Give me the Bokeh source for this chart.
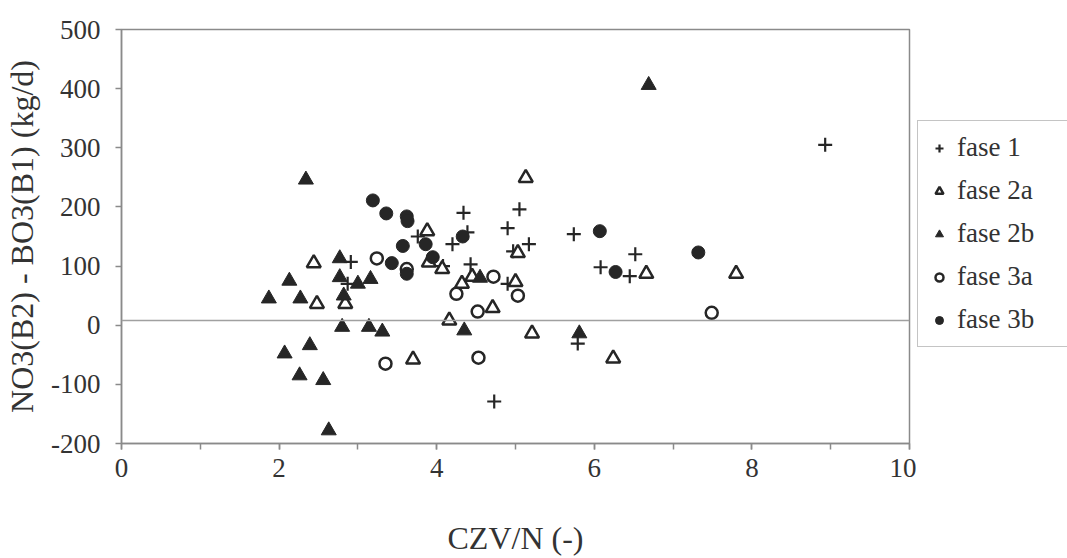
from bokeh.plotting import figure
from bokeh.layouts import row
from bokeh.models import Span, Legend, LegendItem, SingleIntervalTicker, CustomJSTickFormatter
from bokeh.embed import file_html
from bokeh.resources import INLINE

# ---- data ----
fase1_x = [2.91, 2.87, 3.76, 4.20, 4.39, 4.34, 4.43, 4.08, 4.90, 5.05, 5.17, 4.97, 4.90, 5.74, 6.08, 6.45, 6.52, 5.79, 4.73, 8.93]
fase1_y = [107, 70, 150, 137, 157, 190, 103, 100, 164, 196, 137, 125, 70, 154, 98, 83, 120, -31, -129, 305]

fase2a_x = [2.44, 2.48, 2.84, 3.88, 3.90, 4.07, 4.32, 4.45, 4.16, 4.71, 3.70, 5.00, 5.03, 5.13, 5.21, 6.24, 6.66, 7.80]
fase2a_y = [105, 36, 36, 159, 106, 95, 70, 82, 8, 29, -58, 73, 122, 249, -14, -56, 87, 87]

fase2b_x = [2.34, 6.69, 2.13, 1.87, 2.27, 2.39, 2.07, 2.26, 2.56, 2.63, 2.77, 2.77, 3.00, 3.16, 2.82, 2.80, 3.14, 3.31, 4.35, 5.81, 4.55]
fase2b_y = [246, 406, 75, 45, 45, -34, -48, -85, -93, -178, 113, 81, 70, 78, 50, -3, -3, -11, -9, -14, 80]

fase3a_x = [3.24, 3.62, 4.25, 4.72, 4.52, 5.03, 3.35, 4.53, 7.49]
fase3a_y = [113, 95, 53, 82, 23, 50, -65, -55, 21]

fase3b_x = [3.19, 3.36, 3.62, 3.63, 3.57, 3.86, 3.95, 3.43, 3.62, 4.33, 6.07, 6.27, 7.32]
fase3b_y = [211, 189, 184, 176, 134, 137, 115, 105, 87, 150, 159, 90, 123]

series_labels = ["fase 1", "fase 2a", "fase 2b", "fase 3a", "fase 3b"]
reference_level = 8

x_title = "CZV/N (-)"
y_title = "NO3(B2) - BO3(B1) (kg/d)"

# ---- styling ----
INK = "#262626"
AXIS = "#8a8a8a"
FONT = "Liberation Serif"
H = 558

styles = [
    dict(marker="cross", size=14, line_color=INK, line_width=2.2),
    dict(marker="triangle", size=14, fill_color="white", line_color=INK, line_width=2.5),
    dict(marker="triangle", size=15, fill_color=INK, line_color=INK, line_width=1),
    dict(marker="circle", size=12, fill_color="white", line_color=INK, line_width=2.5),
    dict(marker="circle", size=13, fill_color=INK, line_color=INK, line_width=1),
]

p = figure(width=916, height=H, x_range=(0, 10), y_range=(-200, 500),
           output_backend="svg", toolbar_location=None,
           min_border_left=121, min_border_right=7,
           min_border_top=29, min_border_bottom=112)
p.background_fill_color = "white"
p.border_fill_color = "white"
p.outline_line_color = AXIS
p.outline_line_width = 1.5
p.xgrid.visible = False
p.ygrid.visible = False

p.xaxis.ticker = SingleIntervalTicker(interval=2, num_minor_ticks=2)
p.yaxis.ticker = SingleIntervalTicker(interval=100, num_minor_ticks=0)
p.xaxis.formatter = CustomJSTickFormatter(code="return tick.toFixed(0);")
p.yaxis.formatter = CustomJSTickFormatter(code="return tick.toFixed(0);")

for ax in (p.xaxis, p.yaxis):
    ax.axis_line_color = AXIS
    ax.axis_line_width = 1.5
    ax.major_tick_line_color = AXIS
    ax.major_tick_line_width = 1.5
    ax.major_tick_in = 0
    ax.major_tick_out = 6
    ax.minor_tick_line_color = AXIS
    ax.minor_tick_line_width = 1.5
    ax.minor_tick_in = 0
    ax.minor_tick_out = 6
    ax.major_label_text_font = FONT
    ax.major_label_text_font_size = "27px"
    ax.major_label_text_color = "#333333"
    ax.axis_label_text_font = FONT
    ax.axis_label_text_font_size = "32px"
    ax.axis_label_text_font_style = "normal"
    ax.axis_label_text_color = "#333333"

p.xaxis.axis_label = x_title
p.yaxis.axis_label = y_title
p.xaxis.major_label_standoff = 9
p.xaxis.axis_label_standoff = 40
p.yaxis.major_label_standoff = 15
p.yaxis.axis_label_standoff = 8

p.add_layout(Span(location=reference_level, dimension="width",
                  line_color="#a0a0a0", line_width=1.5))

series = [(fase1_x, fase1_y), (fase2a_x, fase2a_y), (fase2b_x, fase2b_y),
          (fase3a_x, fase3a_y), (fase3b_x, fase3b_y)]
draw_order = [0, 1, 3, 2, 4]
for i in draw_order:
    xs, ys = series[i]
    p.scatter(xs, ys, **styles[i])

# ---- legend panel (separate blank figure to the right of the plot) ----
# same series are attached here, but the view range shows none of them;
# they only provide the legend glyphs.
q = figure(width=151, height=H, x_range=(20, 21), y_range=(1000, 1001),
           output_backend="svg", toolbar_location=None,
           min_border_left=0, min_border_right=0,
           min_border_top=29, min_border_bottom=112)
q.axis.visible = False
q.grid.visible = False
q.outline_line_color = None
q.background_fill_color = "white"
q.border_fill_color = "white"

legend_renderers = [q.scatter(xs, ys, **st) for (xs, ys), st in zip(series, styles)]
legend = Legend(items=[LegendItem(label=lab, renderers=[r])
                       for lab, r in zip(series_labels, legend_renderers)],
                location=(1, 96))
legend.label_text_font = FONT
legend.label_text_font_size = "27px"
legend.label_text_color = "#333333"
legend.glyph_width = 20
legend.glyph_height = 30
legend.label_height = 30
legend.label_width = 130
legend.label_standoff = 8
legend.spacing = 12
legend.padding = 11
legend.margin = 0
legend.border_line_color = AXIS
legend.border_line_width = 1.5
legend.background_fill_color = "white"
legend.background_fill_alpha = 1
q.add_layout(legend, "center")

layout = row(p, q)
open("out.html", "w").write(file_html(layout, INLINE))
